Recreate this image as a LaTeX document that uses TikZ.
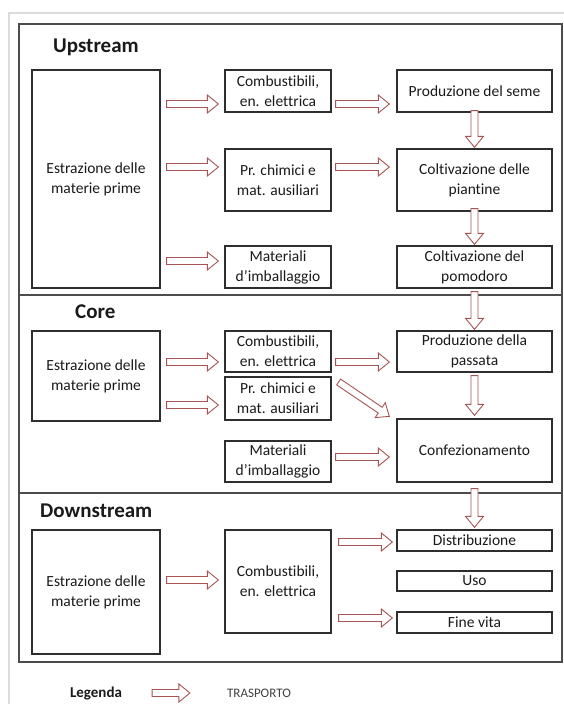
\documentclass[tikz,border=0pt]{standalone}
\usepackage{fontspec}
\setmainfont{Carlito}[Ligatures={NoCommon}]
\usetikzlibrary{calc}
\definecolor{arr}{HTML}{A85454}
\definecolor{boxc}{HTML}{2E2E2E}
\definecolor{txt}{HTML}{1A1A1A}
\tikzset{
  box/.style={draw=boxc, line width=1.3pt, fill=white, align=center, inner sep=0pt,
    font=\fontsize{15.5}{20}\selectfont, text=txt},
  wl/.style={minimum width=128},
  wm/.style={minimum width=106},
  wr/.style={minimum width=155},
  sect/.style={draw=black!70, line width=1.3pt},
  ttl/.style={font=\fontsize{21}{24}\selectfont\bfseries, anchor=base west, inner sep=0pt, text=txt},
  barrow/.style={draw=arr, fill=white, line width=0.9pt, line join=miter,
    to path={let \p1=(\tikztostart), \p2=(\tikztotarget),
      \n1={veclen(\x2-\x1,\y2-\y1)}, \n2={atan2(\y2-\y1,\x2-\x1)} in
      {[shift={(\p1)}, rotate=\n2]
        (0pt,3.5pt) -- ({\n1-11pt},3.5pt) -- ({\n1-11pt},9pt) -- ({\n1+0pt},0pt)
        -- ({\n1-11pt},-9pt) -- ({\n1-11pt},-3.5pt) -- (0pt,-3.5pt) -- cycle}}},
}
\begin{document}
\begin{tikzpicture}[x=1pt,y=-1pt]
\useasboundingbox (0,0) rectangle (563,704);
\fill[white] (0,0) rectangle (563,704);
\draw[draw=black!14, line width=1.5pt] (9,13) rectangle (620,760);
% sections
\draw[sect] (19,24) rectangle (562,295);
\draw[sect] (19,295) rectangle (562,493);
\draw[sect] (19,493) rectangle (562,662);
\node[ttl] (tup) at (53,52) {Upstream};
\node[ttl] (tcore) at (75,318) {Core};
\node[ttl] (tdown) at (40,517) {Downstream};
% Upstream
\node[box, wl, minimum height=218] (est1) at (96,179) {Estrazione delle\\materie prime};
\node[box, wm, minimum height=42] (cb1) at (278,91) {Combustibili,\\en. elettrica};
\node[box, wm, minimum height=62] (pc1) at (278,180) {Pr. chimici e\\mat. ausiliari};
\node[box, wm, minimum height=42] (mi1) at (278,267) {Materiali\\d'imballaggio};
\node[box, wr, minimum height=42] (ps1) at (474.5,91) {Produzione del seme};
\node[box, wr, minimum height=62] (cp1) at (474.5,180) {Coltivazione delle\\piantine};
\node[box, wr, minimum height=42] (cpo) at (474.5,267) {Coltivazione del\\pomodoro};
% Core
\node[box, wl, minimum height=90] (est2) at (96,376) {Estrazione delle\\materie prime};
\node[box, wm, minimum height=41] (cb2) at (278,351.5) {Combustibili,\\en. elettrica};
\node[box, wm, minimum height=43] (pc2) at (278,398.5) {Pr. chimici e\\mat. ausiliari};
\node[box, wm, minimum height=41] (mi2) at (278,461.5) {Materiali\\d'imballaggio};
\node[box, wr, minimum height=41] (pp) at (474.5,351.5) {Produzione della\\passata};
\node[box, wr, minimum height=63] (conf) at (474.5,450.5) {Confezionamento};
% Downstream
\node[box, wl, minimum height=124] (est3) at (96,592) {Estrazione delle\\materie prime};
\node[box, wm, minimum height=103] (cb3) at (278,581.5) {Combustibili,\\en. elettrica};
\node[box, wr, minimum height=21] (dist) at (474.5,540.5) {Distribuzione};
\node[box, wr, minimum height=20] (uso) at (474.5,581) {Uso};
\node[box, wr, minimum height=21] (fine) at (474.5,622.5) {Fine vita};
% Legend
\node[font=\fontsize{15}{18}\selectfont\bfseries, text=txt, inner sep=0pt] (leg) at (96,693) {Legenda};
\node[font=\fontsize{13}{16}\selectfont, text=black!75, inner sep=0pt] (tra) at (259,693) {TRASPORTO};
% Upstream arrows
\path[barrow] ($(est1.east |- 0,104)+(6,0)$) to ($(cb1.west |- 0,104)+(-6,0)$);
\path[barrow] ($(est1.east |- 0,167)+(6,0)$) to ($(pc1.west |- 0,167)+(-6,0)$);
\path[barrow] ($(est1.east |- 0,261)+(6,0)$) to ($(mi1.west |- 0,261)+(-6,0)$);
\path[barrow] ($(cb1.east |- 0,104)+(4,0)$) to ($(ps1.west |- 0,104)+(-7,0)$);
\path[barrow] ($(pc1.east |- 0,167)+(4,0)$) to ($(cp1.west |- 0,167)+(-7,0)$);
\path[barrow] ($(ps1.south)+(0,-2)$) to ($(cp1.north)+(0,-1)$);
\path[barrow] ($(cp1.south)+(0,-3)$) to ($(cpo.north)+(0,-1)$);
\path[barrow] ($(cpo.south)+(0,3)$) to ($(pp.north)+(0,-1)$);
% Core arrows
\path[barrow] ($(est2.east |- 0,362)+(6,0)$) to ($(cb2.west |- 0,362)+(-6,0)$);
\path[barrow] ($(est2.east |- 0,405)+(6,0)$) to ($(pc2.west |- 0,405)+(-6,0)$);
\path[barrow] ($(cb2.east |- 0,362)+(4,0)$) to ($(pp.west |- 0,362)+(-7,0)$);
\path[barrow] ($(cb2.east)+(7,30.5)$) to ($(conf.north west)+(-7,-2)$);
\path[barrow] ($(mi2.east |- 0,457)+(4,0)$) to ($(conf.west |- 0,457)+(-7,0)$);
\path[barrow] ($(pp.south)+(0,3)$) to ($(conf.north)+(0,-3)$);
\path[barrow] ($(conf.south)+(0,6)$) to ($(dist.north)+(0,-2)$);
% Downstream arrows
\path[barrow] ($(est3.east |- 0,580)+(6,0)$) to ($(cb3.west |- 0,580)+(-6,0)$);
\path[barrow] ($(cb3.east |- 0,542)+(7,0)$) to ($(dist.west |- 0,542)+(-4,0)$);
\path[barrow] ($(cb3.east |- 0,618)+(7,0)$) to ($(fine.west |- 0,618)+(-4,0)$);
% Legend arrow
\path[barrow] ($(leg.east)+(30,0)$) to ($(tra.west)+(-37,0)$);
\end{tikzpicture}
\end{document}
